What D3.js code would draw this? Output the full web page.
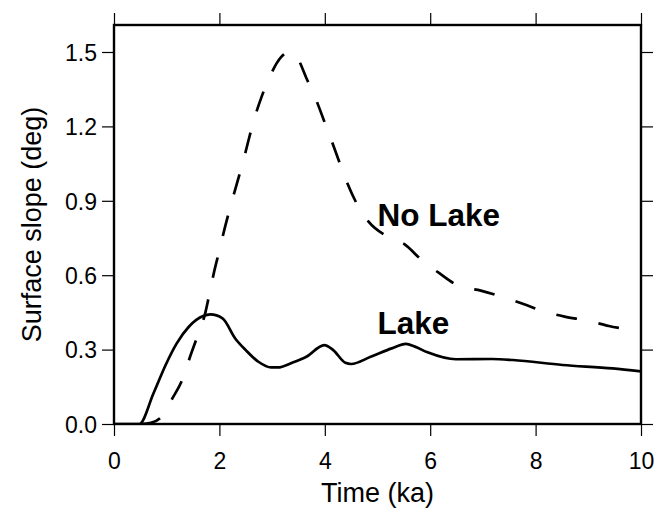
<!DOCTYPE html>
<html>
<head>
<meta charset="utf-8">
<script src="https://cdn.jsdelivr.net/npm/d3@7"></script>
<style>
  html, body { margin: 0; padding: 0; background: #fff; }
  svg { display: block; font-family: "Liberation Sans", Arial, Helvetica, sans-serif; }
</style>
</head>
<body>
<svg id="chart" width="668" height="510"></svg>
<script>
// ---- data ----
const lakeX = [0, 0.48, 0.75, 0.98, 1.19, 1.42, 1.69, 1.83, 2.06, 2.30, 2.50, 2.74, 2.98, 3.11, 3.38, 3.65, 3.99, 4.16, 4.39, 4.50, 4.87, 5.27, 5.54, 5.71, 5.95, 6.49, 7.17, 7.57, 8.51, 9.46, 10.0];
const lakeY = [0, 0, 0.124, 0.238, 0.325, 0.392, 0.435, 0.442, 0.426, 0.345, 0.298, 0.251, 0.228, 0.228, 0.247, 0.271, 0.318, 0.298, 0.247, 0.242, 0.271, 0.305, 0.323, 0.312, 0.289, 0.261, 0.262, 0.258, 0.238, 0.224, 0.212];

const noLakeX = [0.5, 0.7, 0.89, 1.11, 1.30, 1.44, 1.58, 1.73, 1.81, 1.90, 2.0, 2.10, 2.20, 2.33, 2.44, 2.55, 2.66, 2.79, 2.95, 3.17, 3.32, 3.49, 3.66, 3.83, 3.98, 4.13, 4.28, 4.43, 4.61, 4.83, 5.17, 5.51, 5.84, 6.18, 6.55, 6.96, 7.36, 7.77, 8.17, 8.55, 8.98, 9.39, 9.80, 10.0];
const noLakeY = [0, 0.005, 0.027, 0.104, 0.181, 0.269, 0.352, 0.446, 0.524, 0.614, 0.70, 0.789, 0.87, 0.968, 1.05, 1.142, 1.229, 1.313, 1.398, 1.479, 1.501, 1.472, 1.39, 1.31, 1.226, 1.142, 1.054, 0.97, 0.887, 0.816, 0.758, 0.725, 0.661, 0.607, 0.556, 0.538, 0.513, 0.484, 0.453, 0.433, 0.417, 0.395, 0.379, 0.37];

const xTicks = [0, 2, 4, 6, 8, 10];
const yTicks = [0.0, 0.3, 0.6, 0.9, 1.2, 1.5];
const xTitle = "Time (ka)";
const yTitle = "Surface slope (deg)";
const labels = [
  { text: "No Lake", x: 5.0, y: 0.80 },
  { text: "Lake", x: 5.0, y: 0.362 }
];

// ---- layout ----
const svg = d3.select("#chart");
const L = 114, R = 641, T = 25, B = 424;
const x = d3.scaleLinear().domain([0, 10]).range([L, R]);
const y = d3.scaleLinear().domain([0, 1.5]).range([B, B - 372]);

svg.append("rect").attr("width", 668).attr("height", 510).attr("fill", "#fff");

svg.append("clipPath").attr("id", "clip")
  .append("rect").attr("x", L).attr("y", T).attr("width", R - L).attr("height", B - T);

const tickLen = 12;
const fmt = d3.format(".1f");

const gB = svg.append("g").attr("transform", `translate(0,${B})`)
  .call(d3.axisBottom(x).tickValues(xTicks).tickSize(tickLen).tickPadding(17).tickFormat(d3.format("d")));
const gT = svg.append("g").attr("transform", `translate(0,${T})`)
  .call(d3.axisTop(x).tickValues(xTicks).tickSize(tickLen).tickFormat(""));
const gL = svg.append("g").attr("transform", `translate(${L},0)`)
  .call(d3.axisLeft(y).tickValues(yTicks).tickSize(tickLen).tickPadding(5).tickFormat(fmt));
const gR = svg.append("g").attr("transform", `translate(${R},0)`)
  .call(d3.axisRight(y).tickValues(yTicks).tickSize(tickLen).tickFormat(""));

[gB, gT, gL, gR].forEach(g => {
  g.select(".domain").remove();
  g.selectAll(".tick line").attr("stroke", "#000").attr("stroke-width", 1.2);
  g.selectAll(".tick text").attr("fill", "#000").attr("font-size", 23)
    .attr("font-family", "'Liberation Sans', Arial, sans-serif");
});
gB.selectAll(".tick text").attr("dy", "0.71em");
gL.selectAll(".tick text").attr("dy", "0.36em");

// lines
const lakeData = lakeX.map((d, i) => [d, lakeY[i]]);
const noLakeData = noLakeX.map((d, i) => [d, noLakeY[i]]);
const line = d3.line().x(d => x(d[0])).y(d => y(d[1])).curve(d3.curveMonotoneX);

const plot = svg.append("g").attr("clip-path", "url(#clip)");
plot.append("path").datum(noLakeData).attr("d", line)
  .attr("fill", "none").attr("stroke", "#000").attr("stroke-width", 2.7)
  .attr("stroke-dasharray", "21,22");
plot.append("path").datum(lakeData).attr("d", line)
  .attr("fill", "none").attr("stroke", "#000").attr("stroke-width", 2.7)
  .attr("stroke-linejoin", "round");

// frame
svg.append("rect").attr("x", L).attr("y", T).attr("width", R - L).attr("height", B - T)
  .attr("fill", "none").attr("stroke", "#000").attr("stroke-width", 2.4);

// curve labels
svg.selectAll("text.lbl").data(labels).enter().append("text")
  .attr("class", "lbl")
  .attr("x", d => x(d.x)).attr("y", d => y(d.y))
  .attr("font-size", 31.5).attr("font-weight", "bold").attr("fill", "#000")
  .text(d => d.text);

// axis titles
svg.append("text").attr("x", (L + R) / 2).attr("y", 502)
  .attr("text-anchor", "middle").attr("font-size", 27).attr("fill", "#000")
  .text(xTitle);
svg.append("text").attr("transform", `translate(41,${(T + B) / 2}) rotate(-90)`)
  .attr("text-anchor", "middle").attr("font-size", 27).attr("fill", "#000")
  .text(yTitle);
</script>
</body>
</html>
